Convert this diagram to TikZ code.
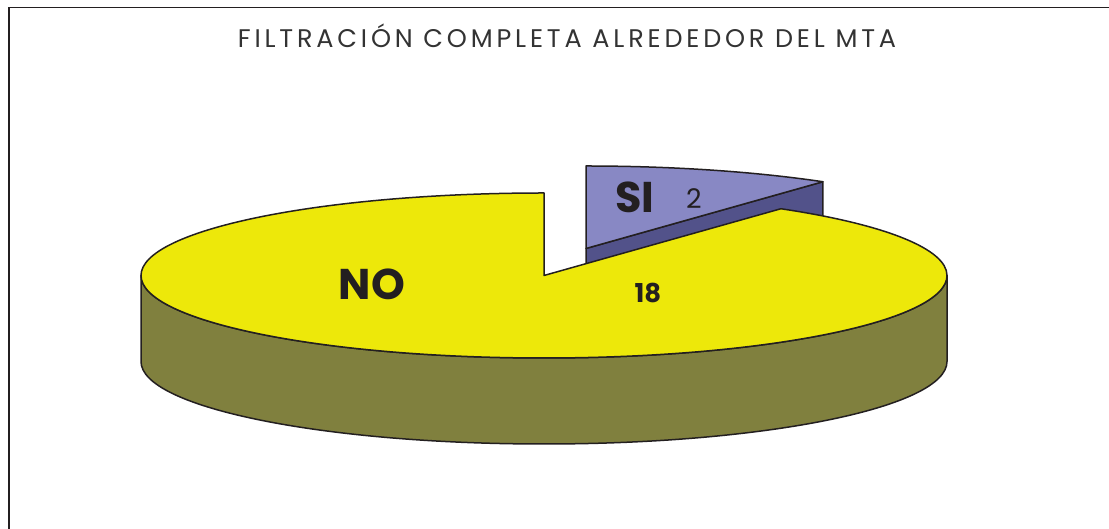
\documentclass[tikz,border=0pt]{standalone}
\usepackage{fontspec}
\setsansfont{Poppins}
\newfontfamily\titlefont{Poppins}[LetterSpace=15]
\usepackage{xcolor}
\usepackage{tikz}
\definecolor{noTop}{HTML}{EDE80A}
\definecolor{noSide}{HTML}{80803E}
\definecolor{siTop}{HTML}{8888C4}
\definecolor{siSide}{HTML}{52528A}
\definecolor{edge}{HTML}{231F20}

\begin{document}
\begin{tikzpicture}[x=1pt, y=1pt, font=\sffamily,
	rim/.style={draw=edge, line width=1.5pt, line join=round},
	lbl/.style={anchor=base, inner sep=0pt, text=edge, font=\sffamily\bfseries\fontsize{43}{43}\selectfont},
	val/.style={anchor=base, inner sep=0pt, text=edge}]
		\useasboundingbox (0,0) rectangle (1109,529);
		\draw[edge, line width=1.5pt] (9,0) |- (1109,521.5);
		\node[val, text=black!80, font=\titlefont\fontsize{25.5}{25.5}\selectfont] (title) at (567,481) {FILTRACIÓN COMPLETA ALREDEDOR DEL MTA};
		% SI slice, pulled out
		\coordinate (siApex) at (586,280.5);
		\coordinate (siRim) at ([shift={(siApex)}]54:403 and 82.5);
		\filldraw[rim, fill=siSide] (siApex) -- ++(0,-86) -- ([yshift=-86pt]siRim) -- (siRim) -- cycle;
		\filldraw[rim, fill=siTop] (siApex) -- (siRim) arc[start angle=54, end angle=90, x radius=403, y radius=82.5] -- cycle;
		% NO slice
		\coordinate (noApex) at (544,253.5);
		\filldraw[rim, fill=noSide] ([shift={(noApex)}]180:403 and 82.5) -- ++(0,-86)
			arc[start angle=180, end angle=360, x radius=403, y radius=82.5] -- ++(0,86)
			arc[start angle=0, end angle=-180, x radius=403, y radius=82.5] -- cycle;
		\filldraw[rim, fill=noTop] (noApex) -- ([shift={(noApex)}]90:403 and 82.5)
			arc[start angle=90, end angle=414, x radius=403, y radius=82.5] -- cycle;
		\node[lbl] (no) at (372,229) {NO};
		\node[val, font=\sffamily\bfseries\fontsize{26}{26}\selectfont] (noVal) at (648,226) {18};
		\node[lbl] (si) at (635,316) {SI};
		\node[val, font=\sffamily\fontsize{27}{27}\selectfont] (siVal) at (694,320) {2};
	\end{tikzpicture}
\end{document}
